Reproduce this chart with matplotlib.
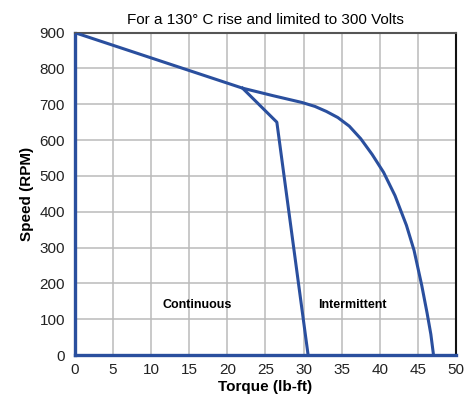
import matplotlib
import numpy as np
from matplotlib import pyplot as plt

matplotlib.use('Agg')
plt.rc('font', family='Liberation Sans')

# intermittent boundary (outer curve)
torque_int = [0, 22, 26, 29.8, 31.5, 33, 34.5, 36, 37.5, 39, 40.5, 42, 43.5,
              44.5, 45.5, 46.2, 46.7, 47.05]
speed_int = [900, 745, 724, 705, 694, 680, 663, 639, 604, 560, 510, 445, 362,
             292, 195, 118, 58, 0]
# continuous boundary (branches off the outer curve)
torque_cont = [22, 26.5, 30.6]
speed_cont = [745, 650, 0]

x_ticks = np.arange(0, 51, 5)
y_ticks = np.arange(0, 901, 100)
blue = '#2a4f9e'


def main():
    fig = plt.figure(figsize=(4.75, 3.98), dpi=100)
    ax = fig.add_axes([0.1575, 0.108, 0.8025, 0.81])

    ax.plot(torque_int, speed_int, color=blue, lw=2.2, zorder=3,
            solid_joinstyle='round')
    ax.plot(torque_cont, speed_cont, color=blue, lw=2.2, zorder=3,
            solid_joinstyle='round')

    ax.set_xlim(0, 50)
    ax.set_ylim(0, 900)
    ax.set_xticks(x_ticks)
    ax.set_yticks(y_ticks)
    ax.tick_params(length=0, labelsize=11, colors='#222222')
    ax.tick_params(axis='y', pad=7)
    ax.tick_params(axis='x', pad=6)
    ax.grid(True, color='#bbbbbb', lw=1.1)
    ax.set_axisbelow(True)

    ax.spines['left'].set_color(blue)
    ax.spines['left'].set_linewidth(2.4)
    ax.spines['bottom'].set_color(blue)
    ax.spines['bottom'].set_linewidth(2.4)
    ax.spines['top'].set_color('#555555')
    ax.spines['top'].set_linewidth(1.5)
    ax.spines['right'].set_color('#111111')
    ax.spines['right'].set_linewidth(1.5)

    ax.set_xlabel('Torque (lb-ft)', fontsize=11, fontweight='bold', labelpad=2)
    ax.set_ylabel('Speed (RPM)', fontsize=11, fontweight='bold', labelpad=4)
    ax.set_title('For a 130\u00b0 C rise and limited to 300 Volts', fontsize=11, pad=6)

    ax.text(16, 140, 'Continuous', fontsize=9, fontweight='bold', ha='center', va='center')
    ax.text(36.4, 140, 'Intermittent', fontsize=9, fontweight='bold', ha='center', va='center')

    plt.savefig('out.png', dpi=100)
    plt.close()


if __name__ == '__main__':
    main()
